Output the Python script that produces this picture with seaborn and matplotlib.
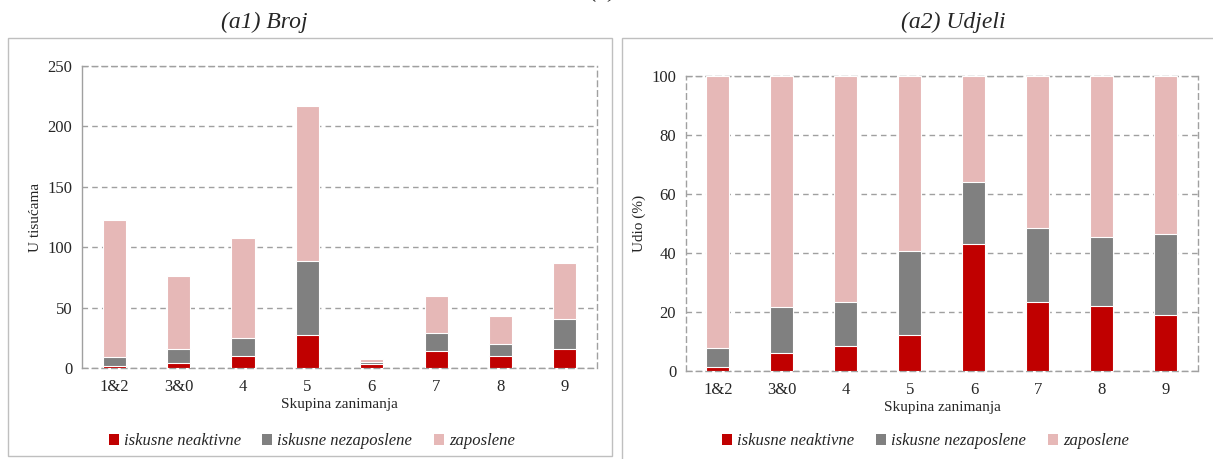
import numpy as np
import pandas as pd
import seaborn as sns
import matplotlib.pyplot as plt
from matplotlib.patches import Rectangle, Patch

sns.set_style('white')
plt.rcParams['font.family'] = ['Liberation Serif', 'DejaVu Serif']

groups = ["1&2", "3&0", "4", "5", "6", "7", "8", "9"]
series = ["iskusne neaktivne", "iskusne nezaposlene", "zaposlene"]
colors = ["#C00000", "#808080", "#E6B8B7"]

# (a1) broj, u tisucama
broj_neaktivne = [1.4, 3.9, 9.6, 27.0, 3.0, 13.8, 9.6, 16.0]
broj_nezaposlene = [8.0, 12.1, 14.9, 61.4, 1.6, 14.9, 10.2, 24.5]
broj_zaposlene = [113.1, 59.8, 82.9, 128.2, 2.8, 31.1, 23.5, 46.3]

# (a2) udjeli, %
udio_neaktivne = [1.4, 6.0, 8.5, 12.1, 42.9, 23.4, 21.9, 18.9]
udio_nezaposlene = [6.5, 15.6, 14.8, 28.5, 21.1, 25.0, 23.6, 27.7]
udio_zaposlene = [92.1, 78.4, 76.7, 59.4, 36.0, 51.6, 54.5, 53.4]

grid_c = "#A0A0A0"
dash = (0, (4, 3))


def stacked(ax, parts, ymax, step, ylabel, leg_x):
    df = pd.DataFrame({"grupa": groups})
    cum = np.zeros(len(groups))
    for name, vals in zip(series, parts):
        cum = cum + np.array(vals)
        df[name] = cum
    # draw the tallest first, then overlay the lower segments
    for name, c in reversed(list(zip(series, colors))):
        sns.barplot(data=df, x="grupa", y=name, color=c, saturation=1,
                    width=0.36, edgecolor="white", linewidth=0.8, ax=ax,
                    zorder=3)
    ax.set_xlim(-0.5, len(groups) - 0.5)
    ax.set_ylim(0, ymax)
    ax.set_yticks(np.arange(0, ymax + 1, step))
    ax.yaxis.grid(True, color=grid_c, linestyle=dash, linewidth=1)
    ax.set_axisbelow(True)
    ax.set_xticks(np.arange(-0.5, len(groups)), minor=True)
    ax.tick_params(axis='x', which='major', length=0, pad=8, labelsize=12)
    ax.tick_params(axis='x', which='minor', length=4, color=grid_c, direction='out')
    ax.tick_params(axis='y', length=4, color=grid_c, labelsize=12, pad=3)
    for s in ["top", "right", "bottom", "left"]:
        ax.spines[s].set_visible(True)
        ax.spines[s].set_color(grid_c)
        ax.spines[s].set_linestyle(dash)
        ax.spines[s].set_linewidth(1)
    ax.set_xlabel("Skupina zanimanja", fontsize=11, labelpad=2)
    ax.set_ylabel(ylabel, fontsize=11)
    handles = [Patch(facecolor=c, edgecolor="none") for c in colors]
    ax.legend(handles, series, loc="center", bbox_to_anchor=(leg_x, 0.039),
              bbox_transform=fig.transFigure,
              ncol=3, frameon=False, handlelength=0.6, handleheight=0.6,
              handletextpad=0.3, columnspacing=1.3,
              prop={"style": "italic", "size": 12})


fig = plt.figure(figsize=(12.13, 4.59), dpi=100)
ax1 = fig.add_axes([0.0676, 0.1983, 0.4246, 0.658])
ax2 = fig.add_axes([0.5655, 0.1917, 0.4221, 0.6427])

stacked(ax1, [broj_neaktivne, broj_nezaposlene, broj_zaposlene], 250, 50,
        "U tisućama", 0.257)
ax1.spines["left"].set_linestyle("-")
stacked(ax2, [udio_neaktivne, udio_nezaposlene, udio_zaposlene], 100, 20,
        "Udio (%)", 0.763)

fig.patches.append(Rectangle((0.0066, 0.0065), 0.4979, 0.9108, transform=fig.transFigure,
                             fill=False, edgecolor="#BFBFBF", linewidth=1))
fig.patches.append(Rectangle((0.5128, -0.01), 0.49, 0.927, transform=fig.transFigure,
                             fill=False, edgecolor="#BFBFBF", linewidth=1))

fig.text(0.218, 0.952, "(a1) Broj", ha="center", va="center", fontsize=17, style="italic")
fig.text(0.786, 0.952, "(a2) Udjeli", ha="center", va="center", fontsize=17, style="italic")
fig.text(0.497, 1.018, "(a)", ha="center", va="center", fontsize=17, style="italic")

fig.savefig("out.png", dpi=100)
